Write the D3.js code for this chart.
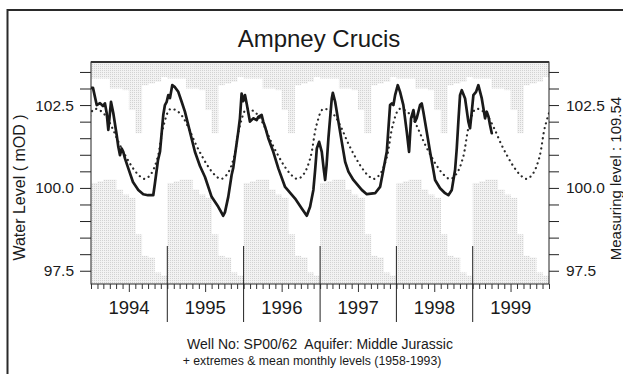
<!DOCTYPE html>
<html><head><meta charset="utf-8">
<script src="https://cdn.jsdelivr.net/npm/d3@7"></script>
<style>
html,body{margin:0;padding:0;background:#fff;}
svg{display:block;font-family:"Liberation Sans",Arial,Helvetica,sans-serif;}
</style>
</head><body>
<svg id="chart" width="623" height="374"></svg>
<script>
// Calendar years shown on the time axis
const years = [1994, 1995, 1996, 1997, 1998, 1999];
// Monthly extremes and means, 1958-1993 (Jan..Dec), mOD
const monthlyMax  = [103.30, 103.30, 103.30, 103.00, 103.00, 102.95, 102.35, 101.65, 103.10, 103.15, 103.20, 103.35];
const monthlyMin  = [100.15, 100.20, 100.25, 100.25, 99.95, 99.80, 99.70, 98.60, 97.95, 97.90, 97.45, 97.35];
const monthlyMean = [102.38, 102.33, 102.15, 101.78, 101.35, 100.97, 100.65, 100.40, 100.27, 100.42, 100.90, 101.90];
// Observed water levels (decimal year, mOD)
const obsTime = [1994.000,1994.026,1994.075,1994.118,1994.157,1994.183,1994.206,1994.227,1994.262,1994.292,1994.337,1994.358,1994.380,1994.402,1994.423,1994.445,1994.489,1994.550,1994.620,1994.685,1994.747,1994.816,1994.838,1994.861,1994.878,1994.904,1994.947,1994.969,1994.992,1995.013,1995.035,1995.065,1995.100,1995.144,1995.188,1995.231,1995.297,1995.362,1995.428,1995.494,1995.581,1995.668,1995.733,1995.756,1995.799,1995.843,1995.864,1995.887,1995.930,1995.952,1995.974,1995.995,1996.018,1996.040,1996.083,1996.126,1996.171,1996.192,1996.236,1996.257,1996.280,1996.323,1996.388,1996.454,1996.542,1996.673,1996.760,1996.826,1996.869,1996.912,1996.935,1996.957,1996.987,1997.022,1997.046,1997.066,1997.085,1997.109,1997.153,1997.167,1997.197,1997.240,1997.284,1997.328,1997.371,1997.436,1997.546,1997.612,1997.721,1997.786,1997.829,1997.874,1997.917,1997.940,1997.961,1997.983,1998.018,1998.048,1998.091,1998.136,1998.166,1998.192,1998.223,1998.245,1998.267,1998.310,1998.332,1998.353,1998.398,1998.441,1998.484,1998.507,1998.572,1998.638,1998.681,1998.726,1998.747,1998.769,1998.791,1998.812,1998.834,1998.857,1998.900,1998.943,1998.965,1998.988,1999.009,1999.044,1999.074,1999.119,1999.162,1999.184,1999.208,1999.227,1999.250];
const obsLevel = [103.02,103.02,102.50,102.56,102.47,102.55,102.25,101.75,102.60,102.26,101.59,101.24,100.99,101.19,101.09,100.89,100.59,100.18,99.94,99.81,99.78,99.78,100.14,100.54,100.84,101.09,102.20,102.50,102.60,102.80,102.71,103.10,103.04,102.90,102.60,102.30,101.69,101.09,100.66,100.33,99.73,99.43,99.16,99.27,99.73,100.39,100.60,100.99,101.69,102.10,102.85,102.62,102.80,102.55,102.00,102.10,102.05,102.14,102.20,102.00,101.85,101.50,101.09,100.59,100.03,99.68,99.38,99.16,99.43,99.94,100.54,101.19,101.39,101.09,100.60,100.24,100.69,101.50,102.70,102.87,102.60,102.00,101.39,100.79,100.49,100.24,99.94,99.81,99.84,100.03,100.54,101.09,102.50,102.55,102.50,102.80,103.10,102.90,102.50,101.69,101.09,102.10,102.35,102.00,102.11,102.50,102.55,102.30,101.69,101.09,100.54,100.24,99.99,99.84,99.78,99.94,100.24,100.54,101.19,102.00,102.80,102.95,102.70,102.00,101.80,102.30,102.80,102.90,103.10,102.70,102.10,102.30,102.14,101.90,101.65];
// Level axis ticks
const levelTicks = [97.5, 98.0, 98.5, 99.0, 99.5, 100.0, 100.5, 101.0, 101.5, 102.0, 102.5, 103.0, 103.5];
const levelLabels = [97.5, 100.0, 102.5];

const svg = d3.select("#chart");
const plot = {left: 91, right: 549, top: 62, bottom: 284};

const x = d3.scaleUtc()
  .domain([Date.UTC(years[0], 0, 1), Date.UTC(years[years.length - 1] + 1, 0, 1)])
  .range([plot.left, plot.right]);
const y = d3.scaleLinear().domain([97.1, 103.8]).range([plot.bottom, plot.top]);

// decimal year -> Date
function fromDecimal(t) {
  const y0 = Math.floor(t);
  const a = Date.UTC(y0, 0, 1), b = Date.UTC(y0 + 1, 0, 1);
  return new Date(a + (t - y0) * (b - a));
}

const defs = svg.append("defs");
const pat = defs.append("pattern").attr("id", "stipple")
  .attr("width", 2).attr("height", 2).attr("patternUnits", "userSpaceOnUse");
pat.append("rect").attr("width", 2).attr("height", 2).attr("fill", "#f2f2f2");
pat.append("rect").attr("width", 1).attr("height", 1).attr("fill", "#d2d2d2");
defs.append("clipPath").attr("id", "plotClip").append("rect")
  .attr("x", plot.left).attr("y", plot.top)
  .attr("width", plot.right - plot.left).attr("height", plot.bottom - plot.top);

// outer frame (top and left edges)
svg.append("path").attr("d", "M7.5,374 V10 H623")
  .attr("fill", "none").attr("stroke", "#2a2a2a").attr("stroke-width", 2);

// title
svg.append("text").attr("x", 319).attr("y", 47).attr("text-anchor", "middle")
  .attr("font-size", 24).attr("fill", "#1a1a1a").text("Ampney Crucis");

// monthly extreme envelope: shaded above max and below min
const cells = [];
years.forEach(yr => d3.range(12).forEach(m => cells.push({yr, m})));
const g = svg.append("g").attr("clip-path", "url(#plotClip)");
g.selectAll("rect.max").data(cells).join("rect").attr("class", "max")
  .attr("x", d => x(Date.UTC(d.yr, d.m, 1)))
  .attr("width", d => x(Date.UTC(d.yr, d.m + 1, 1)) - x(Date.UTC(d.yr, d.m, 1)) + 0.3)
  .attr("y", y(y.domain()[1]))
  .attr("height", d => y(monthlyMax[d.m]) - y(y.domain()[1]))
  .attr("fill", "url(#stipple)");
g.selectAll("rect.min").data(cells).join("rect").attr("class", "min")
  .attr("x", d => x(Date.UTC(d.yr, d.m, 1)))
  .attr("width", d => x(Date.UTC(d.yr, d.m + 1, 1)) - x(Date.UTC(d.yr, d.m, 1)) + 0.3)
  .attr("y", d => y(monthlyMin[d.m]))
  .attr("height", d => y(y.domain()[0]) - y(monthlyMin[d.m]))
  .attr("fill", "url(#stipple)");

// mean monthly levels, dotted
const meanPts = [];
for (let yr = years[0] - 1; yr <= years[years.length - 1] + 1; yr++) {
  for (let m = 0; m < 12; m++) meanPts.push({date: Date.UTC(yr, m, 15), v: monthlyMean[m]});
}
g.append("path").datum(meanPts)
  .attr("d", d3.line().x(d => x(d.date)).y(d => y(d.v)).curve(d3.curveCatmullRom))
  .attr("fill", "none").attr("stroke", "#2a2a2a").attr("stroke-width", 2.2)
  .attr("stroke-linecap", "round").attr("stroke-dasharray", "0.1,5");

// observed levels
const obs = obsTime.map((t, i) => ({date: fromDecimal(t), v: obsLevel[i]}));
g.append("path").datum(obs)
  .attr("d", d3.line().x(d => x(d.date)).y(d => y(d.v)))
  .attr("fill", "none").attr("stroke", "#1a1a1a").attr("stroke-width", 2.7)
  .attr("stroke-linejoin", "round").attr("stroke-linecap", "round");

// plot frame
svg.append("rect").attr("x", plot.left).attr("y", plot.top)
  .attr("width", plot.right - plot.left).attr("height", plot.bottom - plot.top)
  .attr("fill", "none").attr("stroke", "#222").attr("stroke-width", 1);
svg.append("line").attr("x1", plot.left).attr("x2", plot.right)
  .attr("y1", plot.top).attr("y2", plot.top)
  .attr("stroke", "#333").attr("stroke-width", 2);

// level axes
const fmt = d => levelLabels.includes(d) ? d3.format(".1f")(d) : "";
const left = svg.append("g").attr("transform", `translate(${plot.left},0)`)
  .call(d3.axisLeft(y).tickValues(levelTicks).tickSize(11).tickPadding(6).tickFormat(fmt));
const right = svg.append("g").attr("transform", `translate(${plot.right},0)`)
  .call(d3.axisRight(y).tickValues(levelTicks).tickSize(10).tickPadding(7).tickFormat(fmt));
[left, right].forEach(a => {
  a.select(".domain").remove();
  a.selectAll("line").attr("stroke", "#222");
  a.selectAll("text").attr("font-size", 15.5).attr("fill", "#1a1a1a")
    .attr("font-family", "Liberation Sans, Arial, sans-serif");
});

// month ticks along time axis
const bottom = svg.append("g").attr("transform", `translate(0,${plot.bottom})`)
  .call(d3.axisBottom(x).ticks(d3.utcMonth.every(1)).tickSize(5).tickFormat(""));
bottom.select(".domain").remove();
bottom.selectAll(".tick line").attr("stroke", "#333")
  .attr("y2", d => new Date(d).getUTCMonth() === 6 ? 8 : 5);

// year separators and labels
svg.selectAll("line.yearSep").data(years.slice(1)).join("line").attr("class", "yearSep")
  .attr("x1", d => x(Date.UTC(d, 0, 1))).attr("x2", d => x(Date.UTC(d, 0, 1)))
  .attr("y1", 246).attr("y2", 322).attr("stroke", "#222").attr("stroke-width", 1);
svg.selectAll("text.year").data(years).join("text").attr("class", "year")
  .attr("x", d => x(Date.UTC(d, 6, 2))).attr("y", 314)
  .attr("text-anchor", "middle").attr("font-size", 18.5).attr("fill", "#1a1a1a")
  .text(d => d);

// axis titles
svg.append("text").attr("transform", "translate(25,187.5) rotate(-90)")
  .attr("text-anchor", "middle").attr("font-size", 16).attr("fill", "#1a1a1a")
  .text("Water Level ( mOD )");
svg.append("text").attr("transform", "translate(620.5,178.5) rotate(-90)")
  .attr("text-anchor", "middle").attr("font-size", 15).attr("fill", "#1a1a1a")
  .text("Measuring level : 109.54");

// footer
svg.append("text").attr("x", 320).attr("y", 349).attr("text-anchor", "middle")
  .attr("font-size", 14).attr("fill", "#1a1a1a")
  .attr("xml:space", "preserve").style("white-space", "pre")
  .text("Well No: SP00/62  Aquifer: Middle Jurassic");
svg.append("text").attr("x", 312).attr("y", 365).attr("text-anchor", "middle")
  .attr("font-size", 12.3).attr("fill", "#1a1a1a")
  .text("+ extremes & mean monthly levels (1958-1993)");
</script>
</body></html>
